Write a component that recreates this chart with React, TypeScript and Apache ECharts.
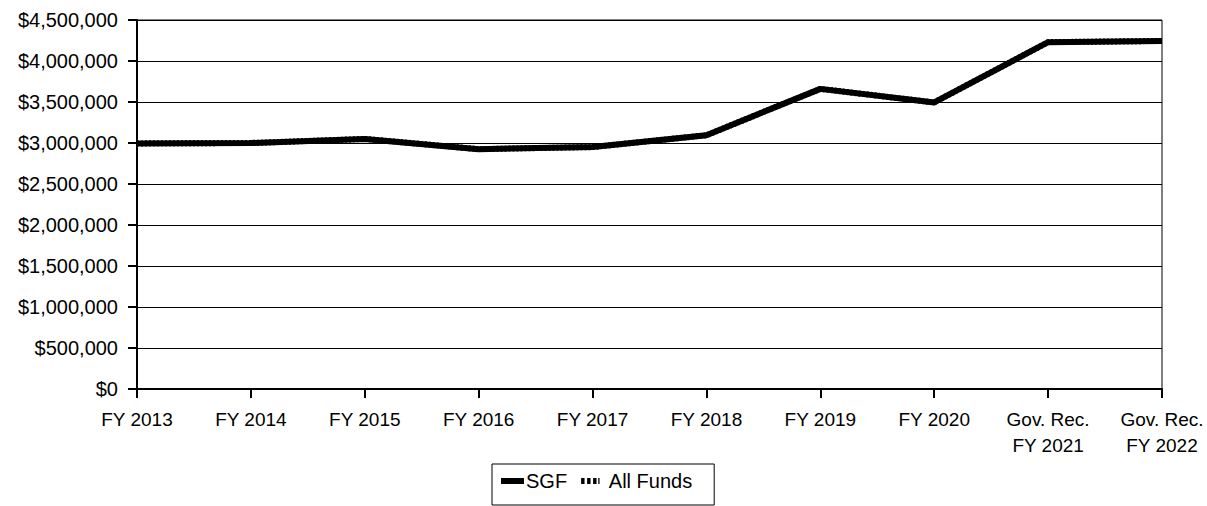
import React, { useEffect, useRef } from "react";
import * as echarts from "echarts";

const categories = [
  "FY 2013",
  "FY 2014",
  "FY 2015",
  "FY 2016",
  "FY 2017",
  "FY 2018",
  "FY 2019",
  "FY 2020",
  "Gov. Rec.\nFY 2021",
  "Gov. Rec.\nFY 2022",
];

const sgfValues = [2995000, 3000000, 3050000, 2925000, 2950000, 3095000, 3660000, 3495000, 4230000, 4245000];
const allFundsValues = [2995000, 3000000, 3050000, 2925000, 2950000, 3095000, 3660000, 3495000, 4230000, 4245000];

const fmt = (v: number) => "$" + v.toLocaleString("en-US");

export default function App() {
  const ref = useRef<HTMLDivElement>(null);
  useEffect(() => {
    if (!ref.current) return;
    const chart = echarts.init(ref.current, undefined, { renderer: "svg" });
    const font = "'Liberation Sans', Arial, sans-serif";
    chart.setOption({
      animation: false,
      backgroundColor: "#ffffff",
      textStyle: { fontFamily: font },
      grid: {
        left: 137,
        right: 45,
        top: 20,
        bottom: 117,
        show: true,
        borderColor: "#000",
        borderWidth: 1,
      },
      legend: {
        left: 492,
        top: 464,
        orient: "horizontal",
        borderColor: "#000",
        borderWidth: 1,
        padding: [7, 22, 14, 9],
        itemGap: 14,
        itemWidth: 23,
        itemHeight: 6,
        textStyle: { fontSize: 20, color: "#000", fontFamily: font, padding: [0, 0, 0, -3] },
        data: [
          { name: "SGF", icon: "rect" },
          {
            name: "All Funds",
            icon: "path://M0,0h4v7h-4z M7,0h4v7h-4z M14,0h4v7h-4z M20,0h1.5v7h-1.5z",
            textStyle: { fontSize: 20, color: "#000", fontFamily: font, padding: [0, 0, 0, 2] },
          },
        ],
      },
      xAxis: {
        type: "category",
        data: categories,
        boundaryGap: false,
        axisLine: { lineStyle: { color: "#000", width: 2 } },
        axisTick: { show: true, alignWithLabel: true, length: 9, lineStyle: { color: "#000", width: 2 } },
        axisLabel: { color: "#000", fontSize: 19, margin: 17, lineHeight: 26, fontFamily: font },
        splitLine: { show: false },
      },
      yAxis: {
        type: "value",
        min: 0,
        max: 4500000,
        interval: 500000,
        axisLine: { show: true, lineStyle: { color: "#000", width: 2 } },
        axisTick: { show: true, length: 9, lineStyle: { color: "#000", width: 2 } },
        axisLabel: { color: "#000", fontSize: 20, margin: 19, formatter: fmt, fontFamily: font },
        splitLine: { show: true, lineStyle: { color: "#000", width: 1 } },
      },
      series: [
        {
          name: "SGF",
          type: "line",
          data: sgfValues,
          symbol: "none",
          lineStyle: { color: "#000", width: 6, type: "solid" },
          itemStyle: { color: "#000" },
          z: 3,
        },
        {
          name: "All Funds",
          type: "line",
          data: allFundsValues,
          symbol: "none",
          lineStyle: { color: "#000", width: 6, type: [2, 2] },
          itemStyle: { color: "#000" },
          z: 4,
        },
      ],
    });
    return () => chart.dispose();
  }, []);
  return (
    <div
      ref={ref}
      style={{ position: "fixed", left: 0, top: 0, width: 1207, height: 506 }}
    />
  );
}
